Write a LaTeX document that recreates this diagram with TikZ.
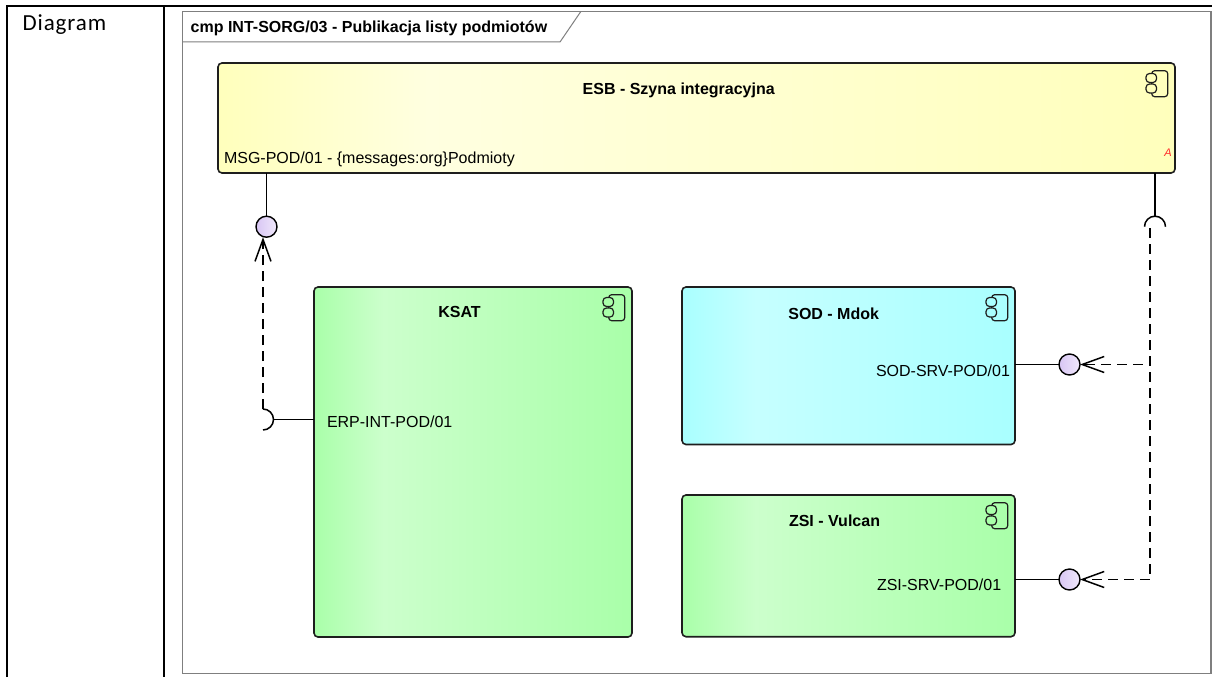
\documentclass[tikz,border=0pt]{standalone}
\usepackage{fontspec}
\setmainfont{Liberation Sans}
\newfontfamily\diagfont[LetterSpace=4]{Carlito}
\usetikzlibrary{arrows.meta,backgrounds}
\definecolor{esbA}{HTML}{FFFFBC}
\definecolor{esbB}{HTML}{FFFFE0}
\definecolor{grA}{HTML}{A9FFA9}
\definecolor{grB}{HTML}{CCFFCC}
\definecolor{cyA}{HTML}{A9FFFF}
\definecolor{cyB}{HTML}{C6FFFF}
\definecolor{lavA}{HTML}{D8C6F4}
\definecolor{lavB}{HTML}{F0E8FB}
\definecolor{shadowc}{HTML}{D6D6D6}
\definecolor{framec}{HTML}{7F7F7F}
\definecolor{edgec}{HTML}{1E1E1E}
\definecolor{redA}{HTML}{FF2A2A}
\pgfdeclarehorizontalshading{esbshade}{100bp}{color(0bp)=(esbA); color(25bp)=(esbA); color(36bp)=(esbB); color(75bp)=(esbA); color(100bp)=(esbA)}
\pgfdeclarehorizontalshading{grshade}{100bp}{color(0bp)=(grA); color(25bp)=(grA); color(36bp)=(grB); color(75bp)=(grA); color(100bp)=(grA)}
\pgfdeclarehorizontalshading{cyshade}{100bp}{color(0bp)=(cyA); color(25bp)=(cyA); color(36bp)=(cyB); color(75bp)=(cyA); color(100bp)=(cyA)}
\tikzset{
  comp/.style={draw=edgec, line width=1.6pt, rounded corners=4pt, anchor=north west, inner sep=0pt, outer sep=0pt},
  lbl/.style={font=\fontsize{16}{19}\selectfont, inner sep=0pt, outer sep=0pt},
  ttl/.style={font=\fontsize{16}{19}\selectfont\bfseries, inner sep=0pt, outer sep=0pt},
  iface/.style={circle, draw=black, line width=1.4pt, minimum size=21pt, inner sep=0pt, outer sep=0pt, left color=lavA, right color=lavB},
  conn/.style={draw=black, line width=1.5pt},
  dep/.style={draw=black, line width=1.5pt, dash pattern=on 10pt off 6pt, -{Straight Barb[length=22pt,width=16pt]}},
  icon/.style={draw=edgec, line width=1.2pt, rounded corners=3pt},
  shadowbox/.style={fill=shadowc, rounded corners=4pt}
}
\newcommand{\compicon}[2]{%
  \begin{scope}[shift={(#1.north east)}]
    \draw[icon] (-23.3,7.7) rectangle (-7.3,33.7);
    \draw[icon, fill=#2, rounded corners=3.5pt] (-29,10.5) rectangle (-18.5,19.5);
    \draw[icon, fill=#2, rounded corners=3.5pt] (-29,21) rectangle (-18.5,30);
  \end{scope}}
\begin{document}
\begin{tikzpicture}[x=1pt,y=-1pt]
\useasboundingbox (0,0) rectangle (1212,677);
\fill[white] (0,0) rectangle (1212,677);
% outer table
\draw[black, line width=2.2pt] (7.3,677) -- (7.3,5.7) -- (1213,5.7);
\draw[black, line width=2.2pt] (164,5.7) -- (164,677);
\node[anchor=base west, inner sep=0pt, font=\diagfont\fontsize{23}{27}\selectfont] (diag) at (22.3,30.5) {Diagram};
% frame
\draw[framec, line width=1.5pt] (182.7,11.7) rectangle (1211,673.5);
\draw[framec, line width=1pt] (182.7,42) -- (560,42) -- (580.7,11.7);
\node[ttl, anchor=base west] (ftitle) at (190.7,33) {cmp INT-SORG/03 - Publikacja listy podmiotów};
% components
\node[comp, shade, shading=esbshade, minimum width=957pt, minimum height=110pt] (esb) at (218,63) {};
\node[comp, shade, shading=grshade, minimum width=318pt, minimum height=350pt] (ksat) at (314,287) {};
\node[comp, shade, shading=cyshade, minimum width=333pt, minimum height=157.5pt] (sod) at (682,287) {};
\node[comp, shade, shading=grshade, minimum width=333pt, minimum height=141.7pt] (zsi) at (682,495) {};
\begin{scope}[on background layer]
  \foreach \n in {esb,ksat,sod,zsi}{
    \fill[shadowbox] ([shift={(4,4)}]\n.north west) rectangle ([shift={(4,4)}]\n.south east);
  }
\end{scope}
\compicon{esb}{esbA}
\compicon{ksat}{grA}
\compicon{sod}{cyA}
\compicon{zsi}{grA}
% labels
\node[ttl, anchor=base west] (esbT) at (582.7,94) {ESB - Szyna integracyjna};
\node[lbl, anchor=base west] (msg) at (224,163) {MSG-POD/01 - \{messages:org\}Podmioty};
\node[anchor=base east, inner sep=0pt, text=redA, font=\fontsize{11}{13}\selectfont\itshape] (abs) at (1172,156) {A};
\node[ttl, anchor=base west] (ksatT) at (438.3,317.7) {KSAT};
\node[ttl, anchor=base east] (sodT) at (879,319) {SOD - Mdok};
\node[ttl, anchor=base east] (zsiT) at (880,526.7) {ZSI - Vulcan};
\node[lbl, anchor=base west] (erp) at (327,427.7) {ERP-INT-POD/01};
\node[lbl, anchor=base west] (sodP) at (876,376.7) {SOD-SRV-POD/01};
\node[lbl, anchor=base west] (zsiP) at (877,590) {ZSI-SRV-POD/01};
% interfaces
\node[iface] (esbIf) at (266.5,226.7) {};
\node[iface] (sodIf) at (1069.5,364.5) {};
\node[iface] (zsiIf) at (1069.5,579.5) {};
\coordinate (ksock) at (263,419.5);
\coordinate (esock) at (1155,226.7);
\coordinate (ebend) at (1150,228);
% provided lollipops
\draw[conn] (esbIf.north |- esb.south) -- (esbIf.north);
\draw[conn] (sod.east |- sodIf) -- (sodIf.west);
\draw[conn] (zsi.east |- zsiIf) -- (zsiIf.west);
% required sockets
\draw[conn] ([yshift=10.5pt]ksock) arc[start angle=90, end angle=-90, radius=10.5pt];
\draw[conn] ([xshift=10.5pt]ksock) -- (ksat.west |- ksock);
\draw[conn] (esock |- esb.south) -- ([yshift=10.5pt]esock);
\draw[conn] ([xshift=-10.5pt]esock) arc[start angle=180, end angle=0, radius=10.5pt];
% dependencies
\draw[dep] ([yshift=10.5pt]ksock) -- (ksock |- esbIf.south);
\draw[dep] (ebend) -- (ebend |- sodIf) -- (sodIf.east);
\draw[dep] (ebend) -- (ebend |- zsiIf) -- (zsiIf.east);
\end{tikzpicture}
\end{document}
